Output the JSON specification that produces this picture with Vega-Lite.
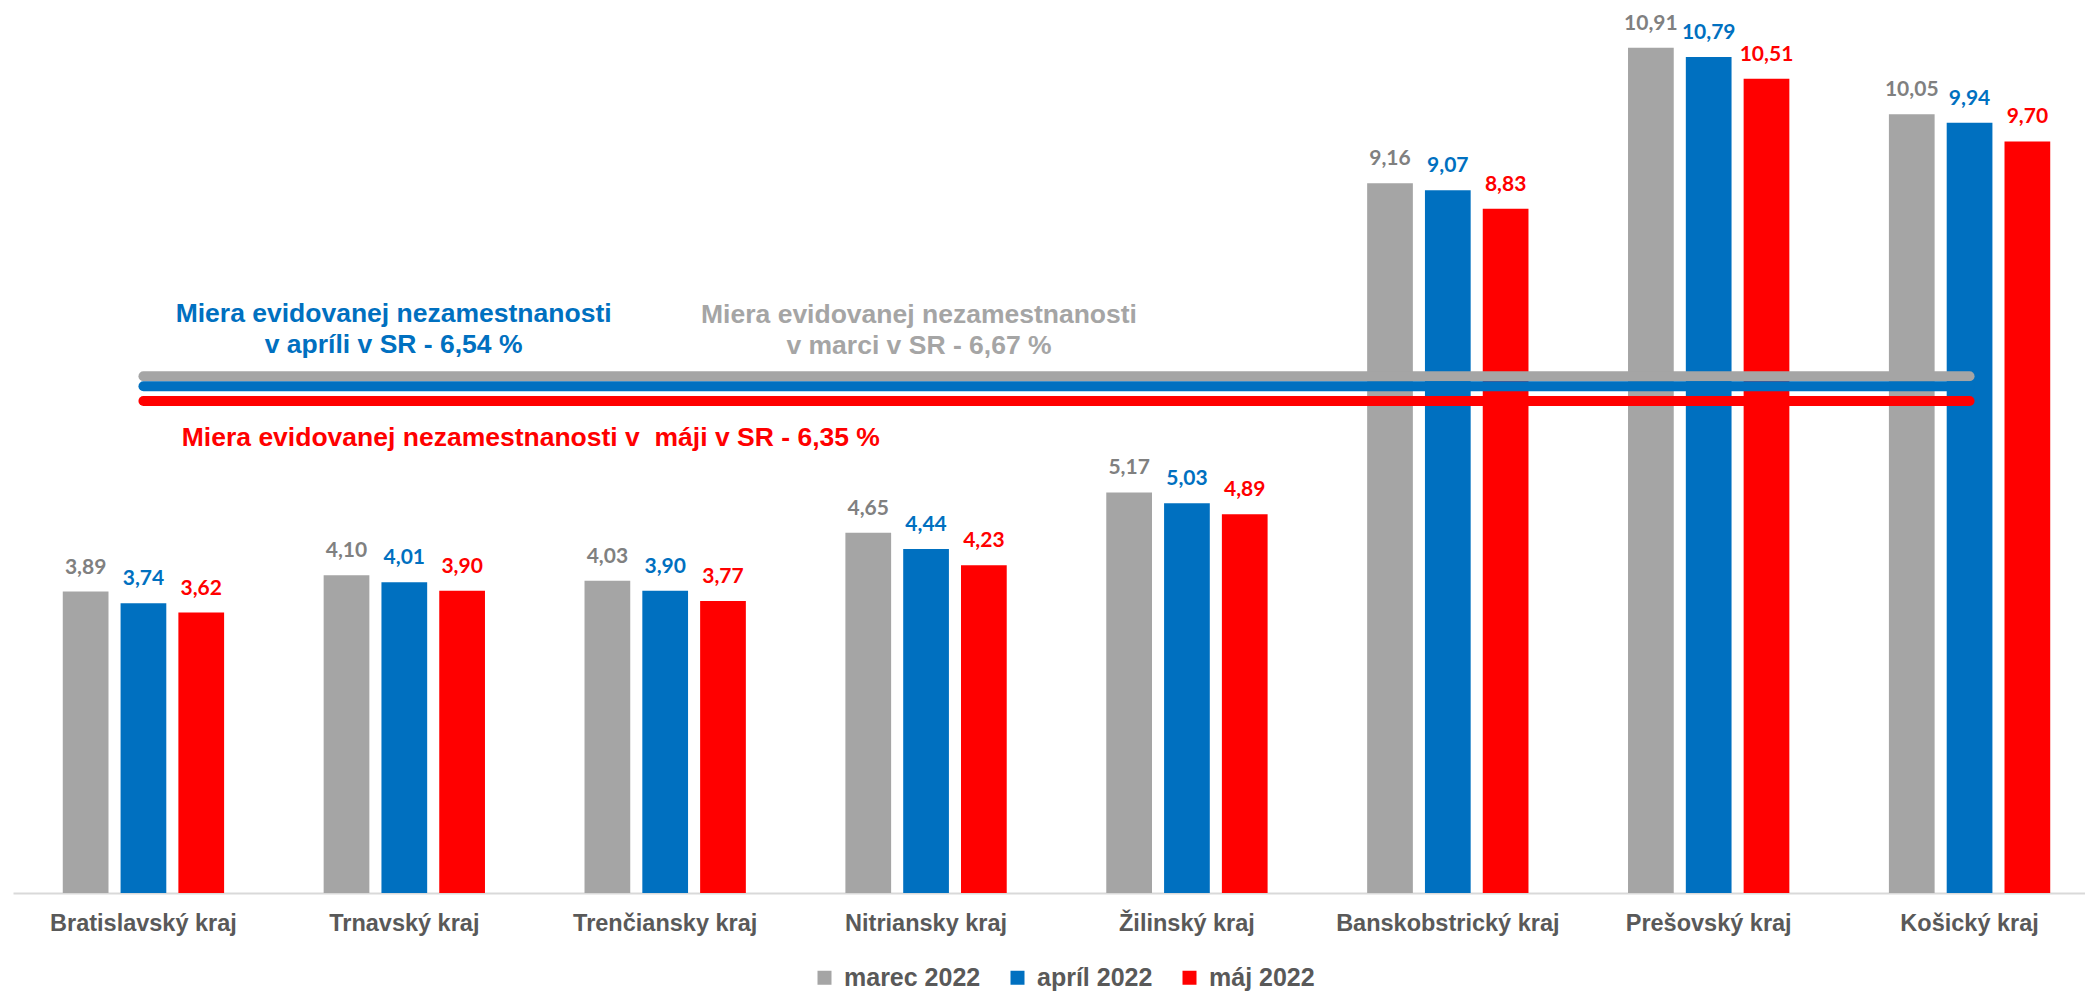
{
  "$schema": "https://vega.github.io/schema/vega-lite/v6.json",
  "width": 2072,
  "height": 891,
  "autosize": {"type": "none"},
  "padding": {"left": 13, "top": 2, "right": 0, "bottom": 98},
  "background": "white",
  "config": {
    "view": {"stroke": null},
    "font": "Liberation Sans",
    "locale": {"number": {"decimal": ",", "thousands": " ", "grouping": [3], "currency": ["", " €"]}}
  },
  "datasets": {
    "regions": [
      {"region": "Bratislavský kraj", "month": "marec 2022", "value": 3.89},
      {"region": "Bratislavský kraj", "month": "apríl 2022", "value": 3.74},
      {"region": "Bratislavský kraj", "month": "máj 2022", "value": 3.62},
      {"region": "Trnavský kraj", "month": "marec 2022", "value": 4.10},
      {"region": "Trnavský kraj", "month": "apríl 2022", "value": 4.01},
      {"region": "Trnavský kraj", "month": "máj 2022", "value": 3.90},
      {"region": "Trenčiansky kraj", "month": "marec 2022", "value": 4.03},
      {"region": "Trenčiansky kraj", "month": "apríl 2022", "value": 3.90},
      {"region": "Trenčiansky kraj", "month": "máj 2022", "value": 3.77},
      {"region": "Nitriansky kraj", "month": "marec 2022", "value": 4.65},
      {"region": "Nitriansky kraj", "month": "apríl 2022", "value": 4.44},
      {"region": "Nitriansky kraj", "month": "máj 2022", "value": 4.23},
      {"region": "Žilinský kraj", "month": "marec 2022", "value": 5.17},
      {"region": "Žilinský kraj", "month": "apríl 2022", "value": 5.03},
      {"region": "Žilinský kraj", "month": "máj 2022", "value": 4.89},
      {"region": "Banskobstrický kraj", "month": "marec 2022", "value": 9.16},
      {"region": "Banskobstrický kraj", "month": "apríl 2022", "value": 9.07},
      {"region": "Banskobstrický kraj", "month": "máj 2022", "value": 8.83},
      {"region": "Prešovský kraj", "month": "marec 2022", "value": 10.91},
      {"region": "Prešovský kraj", "month": "apríl 2022", "value": 10.79},
      {"region": "Prešovský kraj", "month": "máj 2022", "value": 10.51},
      {"region": "Košický kraj", "month": "marec 2022", "value": 10.05},
      {"region": "Košický kraj", "month": "apríl 2022", "value": 9.94},
      {"region": "Košický kraj", "month": "máj 2022", "value": 9.70}
    ],
    "national": [
      {"month": "marec 2022", "value": 6.67, "note": "Miera evidovanej nezamestnanosti\nv marci v SR - 6,67 %", "noteX": 3.473, "noteY": 7.356},
      {"month": "apríl 2022", "value": 6.54, "note": "Miera evidovanej nezamestnanosti\nv apríli v SR - 6,54 %", "noteX": 1.459, "noteY": 7.372},
      {"month": "máj 2022", "value": 6.35, "note": "Miera evidovanej nezamestnanosti v \u00a0máji v SR - 6,35 %", "noteX": 1.985, "noteY": 5.763}
    ]
  },
  "layer": [
    {
      "data": {"name": "regions"},
      "encoding": {
        "x": {
          "field": "region", "type": "nominal", "sort": null,
          "scale": {"range": [0, 2087], "paddingInner": 0, "paddingOuter": 0},
          "axis": {
            "title": null, "labelAngle": 0, "labelFont": "Liberation Sans", "labelFontWeight": "bold",
            "labelFontSize": 23.5, "labelColor": "#595959", "labelLimit": 400, "ticks": false, "tickSize": 0,
            "domainColor": "#D9D9D9", "domainWidth": 2, "labelPadding": 37, "labelBaseline": "alphabetic",
            "grid": false, "labelOverlap": false
          }
        },
        "xOffset": {"field": "month", "type": "nominal", "sort": null, "scale": {"paddingInner": 0.209, "paddingOuter": 0.861}},
        "y": {"field": "value", "type": "quantitative", "scale": {"domain": [0, 11.5]}, "axis": null}
      },
      "layer": [
        {
          "mark": {"type": "bar"},
          "encoding": {
            "color": {
              "field": "month", "type": "nominal",
              "scale": {"domain": ["marec 2022", "apríl 2022", "máj 2022"], "range": ["#A5A5A5", "#0070C0", "#FF0000"]},
              "legend": {
                "orient": "none", "legendX": 799, "legendY": 963, "direction": "horizontal", "title": null,
                "symbolType": "square", "symbolSize": 196, "symbolStrokeWidth": 0, "symbolOpacity": 1,
                "labelFont": "Liberation Sans", "labelFontWeight": "bold", "labelFontSize": 25,
                "labelColor": "#595959", "labelOffset": 7, "columnPadding": 24, "padding": 0, "labelLimit": 300
              }
            }
          }
        },
        {
          "transform": [{"filter": "datum.month === 'marec 2022'"}],
          "mark": {"type": "text", "dy": -18, "baseline": "alphabetic", "font": "Lato", "fontSize": 21, "fontWeight": "bold", "color": "#808080"},
          "encoding": {"text": {"field": "value", "type": "quantitative", "format": ".2f"}}
        },
        {
          "transform": [{"filter": "datum.month !== 'marec 2022'"}],
          "mark": {"type": "text", "dy": -18, "baseline": "alphabetic", "font": "Lato", "fontSize": 21, "fontWeight": "bold"},
          "encoding": {
            "text": {"field": "value", "type": "quantitative", "format": ".2f"},
            "color": {"field": "month", "type": "nominal", "legend": null}
          }
        }
      ]
    },
    {
      "data": {"name": "national"},
      "layer": [
        {
          "mark": {"type": "rule", "strokeWidth": 10, "strokeCap": "round"},
          "encoding": {
            "x": {"datum": 0.5, "type": "quantitative", "scale": {"domain": [0, 8], "range": [0, 2087]}, "axis": null},
            "x2": {"datum": 7.5},
            "y": {"field": "value", "type": "quantitative", "scale": {"domain": [0, 11.5]}, "axis": null},
            "color": {"field": "month", "type": "nominal", "legend": null}
          }
        },
        {
          "mark": {"type": "text", "baseline": "alphabetic", "align": "center", "font": "Liberation Sans", "fontSize": 26.5, "fontWeight": "bold", "lineBreak": "\n", "lineHeight": 31},
          "encoding": {
            "x": {"field": "noteX", "type": "quantitative", "axis": null},
            "y": {"field": "noteY", "type": "quantitative", "scale": {"domain": [0, 11.5]}, "axis": null},
            "text": {"field": "note"},
            "color": {"field": "month", "type": "nominal", "legend": null}
          }
        }
      ]
    }
  ],
  "resolve": {"scale": {"x": "independent"}, "axis": {"x": "independent"}}
}
